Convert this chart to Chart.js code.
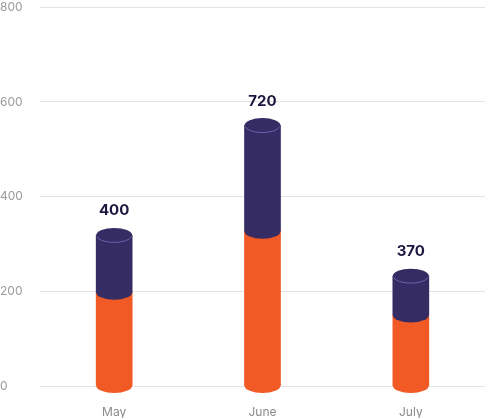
<!DOCTYPE html>
<html>
<head>
<meta charset="utf-8">
<script src="https://cdn.jsdelivr.net/npm/chart.js@4"></script>
<style>
html,body{margin:0;padding:0;background:#fff;overflow:hidden;}
canvas{display:block;}
</style>
</head>
<body>
<canvas id="c" width="485" height="418" style="width:485px;height:418px;"></canvas>
<script>
const categories = ['May', 'June', 'July'];
const lowerValues = [198, 327, 150];
const upperValues = [120, 223, 82];
const totalLabels = ['400', '720', '370'];
const yTicks = [0, 200, 400, 600, 800];

const ORANGE = '#F15A24';
const NAVY = '#352C63';
const RIM = '#6E62AA';
const ELL = 7.5;

function ellipse(ctx, x, y, rx, ry, fill) {
  ctx.beginPath();
  ctx.ellipse(x, y, rx, ry, 0, 0, Math.PI * 2);
  ctx.fillStyle = fill;
  ctx.fill();
}

const cylinderPlugin = {
  id: 'cylinder',
  afterDatasetsDraw(chart) {
    const ctx = chart.ctx;
    ctx.save();
    const m0 = chart.getDatasetMeta(0);
    const m1 = chart.getDatasetMeta(1);
    m0.data.forEach((el) => {
      const p = el.getProps(['x', 'y', 'base', 'width'], true);
      ellipse(ctx, p.x, p.base, p.width / 2, ELL, ORANGE);
    });
    m1.data.forEach((el, i) => {
      const p = el.getProps(['x', 'y', 'base', 'width'], true);
      ellipse(ctx, p.x, p.base, p.width / 2, ELL, NAVY);
      ellipse(ctx, p.x, p.y, p.width / 2, ELL, NAVY);
      ctx.beginPath();
      ctx.ellipse(p.x, p.y, p.width / 2 - 0.5, ELL - 0.5, 0, 0.05 * Math.PI, 0.95 * Math.PI);
      ctx.strokeStyle = RIM;
      ctx.lineWidth = 1;
      ctx.stroke();
      ctx.fillStyle = '#1E163F';
      ctx.font = 'bold 15px Inter, "DejaVu Sans", sans-serif';
      ctx.textAlign = 'center';
      ctx.textBaseline = 'middle';
      ctx.fillText(totalLabels[i], p.x, p.y - ELL - 17);
    });
    ctx.restore();
  }
};

new Chart(document.getElementById('c'), {
  type: 'bar',
  data: {
    labels: categories,
    datasets: [
      { data: lowerValues, backgroundColor: ORANGE, barThickness: 36, borderWidth: 0 },
      { data: upperValues, backgroundColor: NAVY, barThickness: 36, borderWidth: 0 }
    ]
  },
  options: {
    responsive: false,
    animation: false,
    devicePixelRatio: 1,
    layout: { padding: { top: 7, left: 0, right: 0, bottom: 0 } },
    plugins: { legend: { display: false }, tooltip: { enabled: false } },
    scales: {
      x: {
        stacked: true,
        grid: { display: false },
        border: { display: false },
        afterFit(axis) { axis.height = 32; },
        ticks: { color: '#8a8a8a', font: { size: 12, family: 'Inter, sans-serif' }, padding: 11 }
      },
      y: {
        stacked: true,
        min: 0,
        max: 800,
        afterBuildTicks(axis) { axis.ticks = yTicks.map(v => ({ value: v })); },
        afterFit(axis) { axis.width = 40; },
        grid: { color: '#e3e3e3', drawTicks: false, lineWidth: 1 },
        border: { display: false },
        ticks: { color: '#9a9a9a', font: { size: 12, family: 'Inter, sans-serif' }, crossAlign: 'far', padding: 0 }
      }
    }
  },
  plugins: [cylinderPlugin]
});
</script>
</body>
</html>
